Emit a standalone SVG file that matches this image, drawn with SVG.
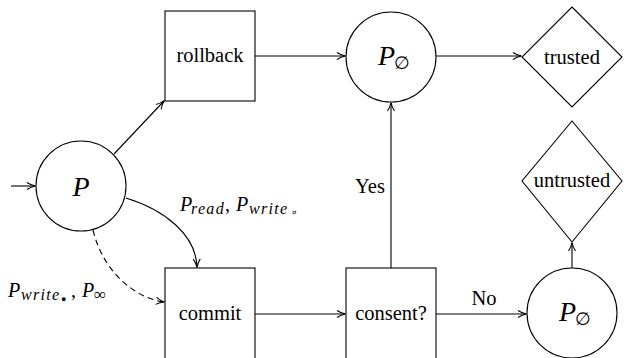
<svg xmlns="http://www.w3.org/2000/svg" width="624" height="358" viewBox="0 0 624 358">
<style>
.s{fill:#fff;stroke:#000;stroke-width:1.1}
.t{font-family:'Liberation Serif',serif;font-size:20.5px;text-anchor:middle;fill:#000}
.m{font-family:'Liberation Serif',serif;font-style:italic;fill:#000}
.sub{font-size:16px;letter-spacing:1.3px}
</style>
<defs>
<marker id="a" viewBox="0 0 10 10" refX="9" refY="5" markerWidth="10" markerHeight="10" markerUnits="userSpaceOnUse" orient="auto">
<path d="M1,1.5 Q5,4.2 9.5,5 Q5,5.8 1,8.5" fill="none" stroke="#000" stroke-width="1.1"/>
</marker>
</defs>
<rect width="624" height="358" fill="#fff"/>
<g id="connectors" fill="none" stroke="#000" stroke-width="1.1">
<path d="M11,186 L35,186" marker-end="url(#a)"/>
<path d="M114,154 L164,101" marker-end="url(#a)"/>
<path d="M126,198 C165,210 196,235 197,267" marker-end="url(#a)"/>
<path d="M93,230 C103,272 135,298 164,302" stroke-dasharray="6,4" marker-end="url(#a)"/>
<path d="M255,56 L345,56" marker-end="url(#a)"/>
<path d="M436,56 L521,56" marker-end="url(#a)"/>
<path d="M255,314 L345,314" marker-end="url(#a)"/>
<path d="M391,268 L391,103" marker-end="url(#a)"/>
<path d="M436,314 L526,314" marker-end="url(#a)"/>
<path d="M572,268 L572,243" marker-end="url(#a)"/>
</g>
<g id="labels">
<text class="t" x="370" y="193" font-size="18.5">Yes</text>
<text class="t" x="484" y="305" font-size="18.5">No</text>
<text class="m" font-size="20"><tspan x="180" y="211">P</tspan><tspan class="sub" x="191" y="214">read</tspan><tspan font-style="normal" x="225" y="211">,</tspan><tspan x="236" y="211">P</tspan><tspan class="sub" x="249" y="214">write</tspan></text>
<text class="m" x="290" y="216" font-size="11" font-style="normal">∘</text>
<text class="m" font-size="20"><tspan x="8" y="297">P</tspan><tspan class="sub" x="21" y="300">write</tspan></text>
<text class="m" x="61" y="302" font-size="9" font-style="normal">●</text>
<text class="m" font-size="20"><tspan font-style="normal" x="71" y="297">,</tspan><tspan x="82" y="297">P</tspan><tspan font-size="17" font-style="normal" x="94" y="300">∞</tspan></text>
</g>
<g id="P">
<circle class="s" cx="81" cy="186" r="45"/>
<text class="m" x="81" y="196" font-size="28" text-anchor="middle">P</text>
</g>
<g id="rollback">
<rect class="s" x="165" y="11" width="90" height="90"/>
<text class="t" x="210" y="62">rollback</text>
</g>
<g id="commit">
<rect class="s" x="165" y="268" width="90" height="91"/>
<text class="t" x="210" y="320">commit</text>
</g>
<g id="consent">
<rect class="s" x="346" y="268" width="90" height="91"/>
<text class="t" x="391" y="320">consent?</text>
</g>
<g id="Pempty_top">
<circle class="s" cx="391" cy="57" r="45"/>
<text class="m" font-size="28"><tspan x="378" y="65">P</tspan><tspan font-size="18" font-style="normal" x="394" y="69">∅</tspan></text>
</g>
<g id="Pempty_bottom">
<circle class="s" cx="572" cy="313" r="45"/>
<text class="m" font-size="28"><tspan x="559" y="321">P</tspan><tspan font-size="18" font-style="normal" x="575" y="325">∅</tspan></text>
</g>
<g id="trusted">
<polygon class="s" points="572,7 622,57 572,107 522,57"/>
<text class="t" x="572" y="64">trusted</text>
</g>
<g id="untrusted">
<polygon class="s" points="572,121 622,181 572,242 522,181"/>
<text class="t" x="572" y="187">untrusted</text>
</g>
</svg>
